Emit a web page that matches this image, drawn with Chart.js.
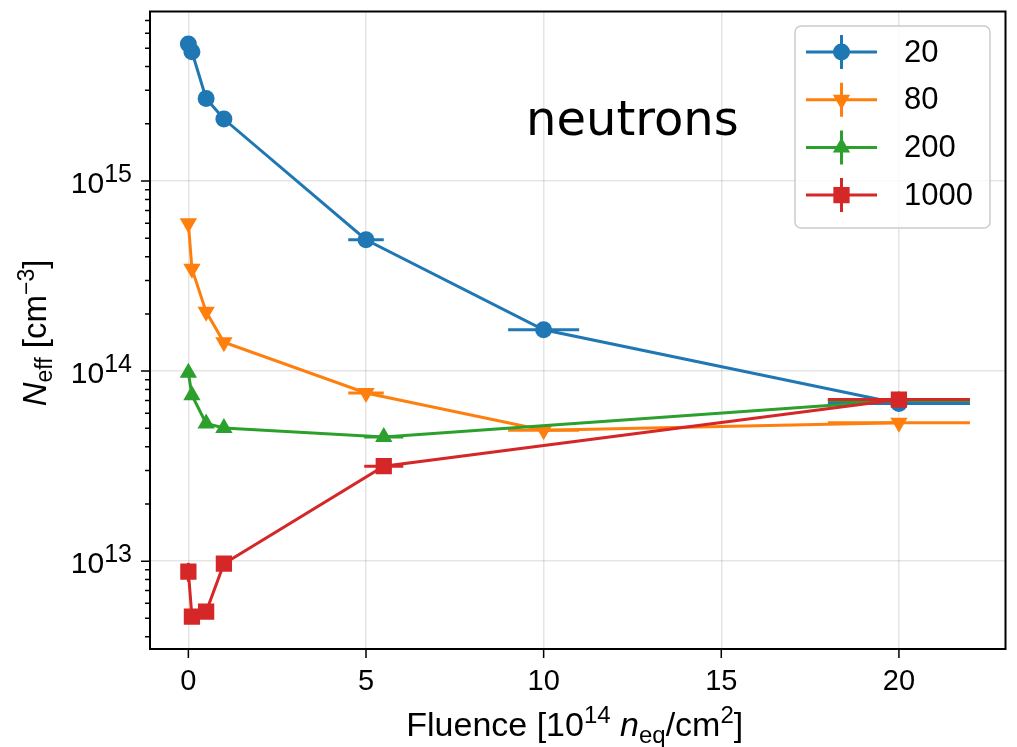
<!DOCTYPE html>
<html>
<head>
<meta charset="utf-8">
<script src="https://cdn.jsdelivr.net/npm/chart.js@4.4.1/dist/chart.umd.min.js"></script>
<style>
  html, body { margin: 0; padding: 0; background: #fff; }
  canvas { display: block; }
</style>
</head>
<body>
<canvas id="neffChart" width="1017" height="747"></canvas>
<script>
// series (legend labels) and look
const seriesLabels = ['20', '80', '200', '1000'];
const seriesColors = ['#1f77b4', '#ff7f0e', '#2ca02c', '#d62728'];
const seriesMarkers = ['circle', 'triangle', 'triangle', 'rect'];
const seriesMarkerRotation = [0, 180, 0, 0];
const seriesMarkerRadius = [8.5, 10, 10, 11.5];

// fluence [1e14 neq/cm2] and Neff [cm-3] per series
const fluence20 = [0, 0.1, 0.5, 1, 5, 10, 20];
const neff20 = [5.26e15, 4.79e15, 2.72e15, 2.12e15, 4.91e14, 1.65e14, 6.75e13];
const xerr20 = [0, 0.01, 0.05, 0.1, 0.5, 1, 2];

const fluence80 = [0, 0.1, 0.5, 1, 5, 10, 20];
const neff80 = [6.0e14, 3.46e14, 2.05e14, 1.42e14, 7.67e13, 4.89e13, 5.35e13];
const xerr80 = [0, 0.01, 0.05, 0.1, 0.5, 1, 2];

const fluence200 = [0, 0.1, 0.5, 1, 5.5, 20];
const neff200 = [9.8e13, 7.46e13, 5.3e13, 5.02e13, 4.5e13, 7.0e13];
const xerr200 = [0, 0.01, 0.05, 0.1, 0.55, 2];

const fluence1000 = [0, 0.1, 0.5, 1, 5.5, 20];
const neff1000 = [8.8e12, 5.1e12, 5.42e12, 9.7e12, 3.16e13, 7.08e13];
const xerr1000 = [0, 0.01, 0.05, 0.1, 0.55, 2];
const yerr1000 = [1.0e12, 0, 0, 0, 0, 0];

const xTicks = [0, 5, 10, 15, 20];
const xMin = -1.08, xMax = 23.0;
const yMin = 3.45e12, yMax = 7.8e15;

const fluences = [fluence20, fluence80, fluence200, fluence1000];
const neffs = [neff20, neff80, neff200, neff1000];
const xerrs = [xerr20, xerr80, xerr200, xerr1000];
const yerrs = [null, null, null, yerr1000];

const FONT = "'Liberation Sans', Arial, Helvetica, sans-serif";

const datasets = seriesLabels.map((label, i) => ({
    label: label,
    data: fluences[i].map((x, j) => ({
        x: x, y: neffs[i][j],
        xerr: xerrs[i][j], yerr: yerrs[i] ? yerrs[i][j] : 0
    })),
    borderColor: seriesColors[i],
    backgroundColor: seriesColors[i],
    pointBackgroundColor: seriesColors[i],
    pointBorderWidth: 0,
    pointStyle: seriesMarkers[i],
    pointRotation: seriesMarkerRotation[i],
    pointRadius: seriesMarkerRadius[i],
    pointHoverRadius: seriesMarkerRadius[i],
    borderWidth: 3,
    tension: 0,
    fill: false,
    order: 3 - i
}));

// x error bars (and the odd y error bar) under each series
const errorBars = {
    id: 'errorBars',
    beforeDatasetDraw(chart, args) {
        const ds = chart.data.datasets[args.index];
        const xs = chart.scales.x, ys = chart.scales.y;
        const ctx = chart.ctx;
        ctx.save();
        ctx.strokeStyle = ds.borderColor;
        ctx.lineWidth = 3;
        ds.data.forEach(p => {
            const px = xs.getPixelForValue(p.x);
            const py = ys.getPixelForValue(p.y);
            ctx.beginPath();
            if (p.xerr) {
                ctx.moveTo(xs.getPixelForValue(p.x - p.xerr), py);
                ctx.lineTo(xs.getPixelForValue(p.x + p.xerr), py);
            }
            if (p.yerr) {
                ctx.moveTo(px, ys.getPixelForValue(p.y - p.yerr));
                ctx.lineTo(px, ys.getPixelForValue(p.y + p.yerr));
            }
            ctx.stroke();
        });
        ctx.restore();
    }
};

function richText(ctx, parts, x, y, align) {
    let total = 0;
    parts.forEach(p => { ctx.font = p.font; p.w = ctx.measureText(p.t).width; total += p.w; });
    let cx = align === 'center' ? x - total / 2 : align === 'right' ? x - total : x;
    ctx.textAlign = 'left';
    ctx.textBaseline = 'alphabetic';
    parts.forEach(p => {
        ctx.font = p.font;
        ctx.fillText(p.t, cx, y + (p.dy || 0));
        cx += p.w;
    });
}

function marker(ctx, style, rotation, radius, x, y) {
    if (Chart.helpers && Chart.helpers.drawPoint) {
        Chart.helpers.drawPoint(ctx, { pointStyle: style, rotation: rotation, radius: radius, borderWidth: 0 }, x, y);
    } else {
        ctx.beginPath();
        ctx.arc(x, y, radius, 0, Math.PI * 2);
        ctx.fill();
    }
}

const decor = {
    id: 'decor',
    afterDraw(chart) {
        const ctx = chart.ctx;
        const a = chart.chartArea;
        const xs = chart.scales.x, ys = chart.scales.y;
        ctx.save();

        // frame
        ctx.strokeStyle = '#000';
        ctx.lineWidth = 2;
        ctx.strokeRect(a.left, a.top, a.right - a.left, a.bottom - a.top);

        // tick marks
        ctx.lineWidth = 1.5;
        ctx.beginPath();
        xs.ticks.forEach(t => {
            const px = xs.getPixelForValue(t.value);
            ctx.moveTo(px, a.bottom);
            ctx.lineTo(px, a.bottom + 9);
        });
        ys.ticks.forEach(t => {
            const py = ys.getPixelForValue(t.value);
            const len = isMajor(t.value) ? 9 : 5;
            ctx.moveTo(a.left, py);
            ctx.lineTo(a.left - len, py);
        });
        ctx.stroke();

        // y tick labels 10^n
        ctx.fillStyle = '#000';
        ys.ticks.forEach(t => {
            if (!isMajor(t.value)) return;
            const e = Math.round(Math.log10(t.value));
            const py = ys.getPixelForValue(t.value);
            richText(ctx, [
                { t: '10', font: '30px ' + FONT },
                { t: String(e), font: '25px ' + FONT, dy: -11 }
            ], a.left - 18, py + 12, 'right');
        });

        // axis titles
        richText(ctx, [
            { t: 'Fluence [10', font: '34px ' + FONT },
            { t: '14', font: '24px ' + FONT, dy: -13 },
            { t: ' ', font: '34px ' + FONT },
            { t: 'n', font: 'italic 34px ' + FONT },
            { t: 'eq', font: '24px ' + FONT, dy: 7 },
            { t: '/cm', font: '34px ' + FONT },
            { t: '2', font: '24px ' + FONT, dy: -13 },
            { t: ']', font: '34px ' + FONT }
        ], (a.left + a.right) / 2 - 3, 736, 'center');

        ctx.save();
        ctx.translate(46, 333);
        ctx.rotate(-Math.PI / 2);
        richText(ctx, [
            { t: 'N', font: 'italic 33px ' + FONT },
            { t: 'eff', font: '23px ' + FONT, dy: 6 },
            { t: ' [cm', font: '33px ' + FONT },
            { t: '\u22123', font: '23px ' + FONT, dy: -12 },
            { t: ']', font: '33px ' + FONT }
        ], 0, 0, 'center');
        ctx.restore();

        // annotation
        ctx.font = "48px 'DejaVu Sans', sans-serif";
        ctx.textAlign = 'left';
        ctx.textBaseline = 'alphabetic';
        ctx.fillText('neutrons', 526, 135);

        // legend
        const lx = 795, ly = 26, lw = 195, lh = 202;
        ctx.beginPath();
        ctx.roundRect(lx, ly, lw, lh, 6);
        ctx.fillStyle = 'rgba(255,255,255,0.8)';
        ctx.fill();
        ctx.strokeStyle = '#cccccc';
        ctx.lineWidth = 1.5;
        ctx.stroke();
        chart.data.datasets.forEach((ds, i) => {
            const cy = 52 + i * 47.7;
            const cx = 841.5;
            ctx.strokeStyle = ds.borderColor;
            ctx.fillStyle = ds.borderColor;
            ctx.lineWidth = 3;
            ctx.beginPath();
            ctx.moveTo(806, cy);
            ctx.lineTo(877, cy);
            ctx.moveTo(cx, cy - 17);
            ctx.lineTo(cx, cy + 17);
            ctx.stroke();
            marker(ctx, ds.pointStyle, ds.pointRotation, ds.pointRadius, cx, cy);
            ctx.fillStyle = '#000';
            ctx.font = '31px ' + FONT;
            ctx.textAlign = 'left';
            ctx.textBaseline = 'middle';
            ctx.fillText(ds.label, 904, cy + 1);
        });

        ctx.restore();
    }
};

function isMajor(v) {
    const e = Math.round(Math.log10(v));
    return Math.abs(v / Math.pow(10, e) - 1) < 1e-6;
}

new Chart(document.getElementById('neffChart'), {
    type: 'line',
    data: { datasets: datasets },
    options: {
        responsive: false,
        animation: false,
        devicePixelRatio: 1,
        layout: { padding: { top: 11, right: 11, left: 0, bottom: 0 } },
        plugins: {
            legend: { display: false },
            tooltip: { enabled: false }
        },
        scales: {
            x: {
                type: 'linear',
                min: xMin,
                max: xMax,
                afterBuildTicks: scale => { scale.ticks = xTicks.map(v => ({ value: v })); },
                afterFit: scale => { scale.height = 98; },
                border: { display: false },
                grid: { color: 'rgba(0,0,0,0.1)', lineWidth: 1.5, drawTicks: false },
                ticks: {
                    color: '#000',
                    font: { family: FONT, size: 29 },
                    padding: 16,
                    maxRotation: 0
                }
            },
            y: {
                type: 'logarithmic',
                min: yMin,
                max: yMax,
                afterBuildTicks: scale => {
                    const t = [];
                    for (let e = 12; e <= 15; e++) {
                        for (let k = 1; k <= 9; k++) {
                            const v = k * Math.pow(10, e);
                            if (v >= yMin && v <= yMax) t.push({ value: v });
                        }
                    }
                    scale.ticks = t;
                },
                afterFit: scale => { scale.width = 150; },
                border: { display: false },
                grid: {
                    color: c => (c.tick && isMajor(c.tick.value)) ? 'rgba(0,0,0,0.1)' : 'rgba(0,0,0,0)',
                    lineWidth: 1.5,
                    drawTicks: false
                },
                ticks: { display: false }
            }
        }
    },
    plugins: [errorBars, decor]
});
</script>
</body>
</html>
